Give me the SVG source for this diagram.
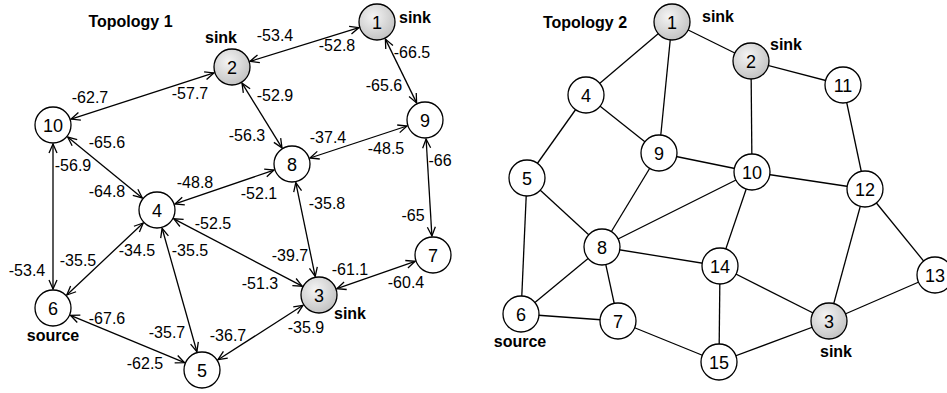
<svg xmlns="http://www.w3.org/2000/svg" width="947" height="393" viewBox="0 0 947 393">
<style>
  text { font-family: "Liberation Sans", Arial, Helvetica, sans-serif; fill: #000; }
  .num { font-size: 18px; text-anchor: middle; }
  .lbl { font-size: 16px; text-anchor: middle; }
  .bold { font-size: 16px; font-weight: bold; }
  .n { fill: #fff; stroke: #000; stroke-width: 1.3; }
  .s { fill: url(#sinkFill); stroke: #000; stroke-width: 1.3; }
  .e { stroke: #000; stroke-width: 1.3; fill: none; }
  .a { marker-start: url(#arr); marker-end: url(#arr); }
</style>
<defs>
  <radialGradient id="sinkFill" cx="0.4" cy="0.35" r="0.65">
    <stop offset="0" stop-color="#f4f4f4"/>
    <stop offset="1" stop-color="#c4c4c4"/>
  </radialGradient>
  <marker id="arr" viewBox="-11 -6 13 12" refX="0" refY="0" markerWidth="13" markerHeight="12" markerUnits="userSpaceOnUse" orient="auto-start-reverse">
    <path d="M-9,-4 L0,0 L-9,4" fill="none" stroke="#000" stroke-width="1.3"/>
  </marker>
</defs>

<!-- Topology 1 connectors -->
<g id="connectors1">
  <line class="e a" x1="358.9" y1="27.6" x2="250.1" y2="61.4"/>
  <line class="e a" x1="385.4" y1="39.1" x2="416.6" y2="102.9"/>
  <line class="e a" x1="213.9" y1="72.9" x2="71.1" y2="119.1"/>
  <line class="e a" x1="242.0" y1="83.2" x2="282.0" y2="147.9"/>
  <line class="e a" x1="407.0" y1="126.0" x2="310.0" y2="158.0"/>
  <line class="e a" x1="426.1" y1="139.0" x2="431.9" y2="236.0"/>
  <line class="e a" x1="67.7" y1="137.0" x2="142.3" y2="198.0"/>
  <line class="e a" x1="53" y1="144" x2="53" y2="289"/>
  <line class="e a" x1="274.0" y1="170.1" x2="175.0" y2="203.9"/>
  <line class="e a" x1="295.8" y1="182.6" x2="315.2" y2="276.4"/>
  <line class="e a" x1="173.8" y1="218.8" x2="302.2" y2="286.2"/>
  <line class="e a" x1="143.2" y1="223.0" x2="66.8" y2="295.0"/>
  <line class="e a" x1="162.1" y1="228.3" x2="196.9" y2="351.7"/>
  <line class="e a" x1="70.5" y1="315.3" x2="184.5" y2="362.7"/>
  <line class="e a" x1="218.0" y1="359.7" x2="303.0" y2="305.3"/>
  <line class="e a" x1="336.9" y1="288.7" x2="415.1" y2="261.3"/>
</g>

<!-- Topology 1 edge labels -->
<g id="edge-labels1">
  <text class="lbl" x="275" y="41">-53.4</text>
  <text class="lbl" x="337" y="51">-52.8</text>
  <text class="lbl" x="412" y="58">-66.5</text>
  <text class="lbl" x="384" y="91">-65.6</text>
  <text class="lbl" x="275" y="101">-52.9</text>
  <text class="lbl" x="247" y="141">-56.3</text>
  <text class="lbl" x="328" y="143">-37.4</text>
  <text class="lbl" x="386" y="154">-48.5</text>
  <text class="lbl" x="440" y="166">-66</text>
  <text class="lbl" x="90" y="103">-62.7</text>
  <text class="lbl" x="190" y="99">-57.7</text>
  <text class="lbl" x="107" y="148">-65.6</text>
  <text class="lbl" x="73" y="171">-56.9</text>
  <text class="lbl" x="107" y="197">-64.8</text>
  <text class="lbl" x="195" y="188">-48.8</text>
  <text class="lbl" x="259" y="199">-52.1</text>
  <text class="lbl" x="327" y="209">-35.8</text>
  <text class="lbl" x="213" y="229">-52.5</text>
  <text class="lbl" x="78" y="266">-35.5</text>
  <text class="lbl" x="137" y="256">-34.5</text>
  <text class="lbl" x="190" y="256">-35.5</text>
  <text class="lbl" x="27" y="276">-53.4</text>
  <text class="lbl" x="290" y="261">-39.7</text>
  <text class="lbl" x="350" y="275">-61.1</text>
  <text class="lbl" x="406" y="288">-60.4</text>
  <text class="lbl" x="260" y="289">-51.3</text>
  <text class="lbl" x="413" y="221">-65</text>
  <text class="lbl" x="107" y="324">-67.6</text>
  <text class="lbl" x="167" y="338">-35.7</text>
  <text class="lbl" x="228" y="341">-36.7</text>
  <text class="lbl" x="306" y="333">-35.9</text>
  <text class="lbl" x="145" y="369">-62.5</text>
</g>

<!-- Topology 1 nodes -->
<g id="t1-n1"><circle class="s" cx="377" cy="22" r="18"/><text class="num" x="377" y="28.5">1</text></g>
<g id="t1-n2"><circle class="s" cx="232" cy="67" r="18"/><text class="num" x="232" y="73.5">2</text></g>
<g id="t1-n9"><circle class="n" cx="425" cy="120" r="18"/><text class="num" x="425" y="126.5">9</text></g>
<g id="t1-n8"><circle class="n" cx="292" cy="164" r="18"/><text class="num" x="292" y="170.5">8</text></g>
<g id="t1-n10"><circle class="n" cx="53" cy="125" r="18"/><text class="num" x="53" y="131.5">10</text></g>
<g id="t1-n4"><circle class="n" cx="157" cy="210" r="18"/><text class="num" x="157" y="216.5">4</text></g>
<g id="t1-n6"><circle class="n" cx="53" cy="308" r="18"/><text class="num" x="53" y="314.5">6</text></g>
<g id="t1-n5"><circle class="n" cx="202" cy="370" r="18"/><text class="num" x="202" y="376.5">5</text></g>
<g id="t1-n3"><circle class="s" cx="319" cy="295" r="18"/><text class="num" x="319" y="301.5">3</text></g>
<g id="t1-n7"><circle class="n" cx="433" cy="255" r="18"/><text class="num" x="433" y="261.5">7</text></g>

<g id="t1-labels">
  <text class="bold" x="130.5" y="27" text-anchor="middle">Topology 1</text>
  <text class="bold" x="205" y="43">sink</text>
  <text class="bold" x="399" y="22.5">sink</text>
  <text class="bold" x="334" y="318.5">sink</text>
  <text class="bold" x="53" y="340.5" text-anchor="middle">source</text>
</g>

<!-- Topology 2 connectors -->
<g id="connectors2">
  <line class="e" x1="672" y1="22" x2="586" y2="95"/>
  <line class="e" x1="672" y1="22" x2="659" y2="153"/>
  <line class="e" x1="672" y1="22" x2="751" y2="61"/>
  <line class="e" x1="751" y1="61" x2="843" y2="85"/>
  <line class="e" x1="751" y1="61" x2="752" y2="172"/>
  <line class="e" x1="586" y1="95" x2="659" y2="153"/>
  <line class="e" x1="586" y1="95" x2="527" y2="178"/>
  <line class="e" x1="659" y1="153" x2="752" y2="172"/>
  <line class="e" x1="659" y1="153" x2="602" y2="247"/>
  <line class="e" x1="527" y1="178" x2="602" y2="247"/>
  <line class="e" x1="527" y1="178" x2="521" y2="314"/>
  <line class="e" x1="752" y1="172" x2="865" y2="189"/>
  <line class="e" x1="752" y1="172" x2="602" y2="247"/>
  <line class="e" x1="752" y1="172" x2="720" y2="266"/>
  <line class="e" x1="843" y1="85" x2="865" y2="189"/>
  <line class="e" x1="865" y1="189" x2="829" y2="321"/>
  <line class="e" x1="865" y1="189" x2="935" y2="275"/>
  <line class="e" x1="602" y1="247" x2="720" y2="266"/>
  <line class="e" x1="602" y1="247" x2="521" y2="314"/>
  <line class="e" x1="602" y1="247" x2="618" y2="321"/>
  <line class="e" x1="521" y1="314" x2="618" y2="321"/>
  <line class="e" x1="618" y1="321" x2="719" y2="362"/>
  <line class="e" x1="720" y1="266" x2="719" y2="362"/>
  <line class="e" x1="720" y1="266" x2="829" y2="321"/>
  <line class="e" x1="829" y1="321" x2="935" y2="275"/>
  <line class="e" x1="829" y1="321" x2="719" y2="362"/>
</g>

<!-- Topology 2 nodes -->
<g id="t2-n1"><circle class="s" cx="672" cy="22" r="18"/><text class="num" x="672" y="28.5">1</text></g>
<g id="t2-n2"><circle class="s" cx="751" cy="61" r="18"/><text class="num" x="751" y="67.5">2</text></g>
<g id="t2-n4"><circle class="n" cx="586" cy="95" r="18"/><text class="num" x="586" y="101.5">4</text></g>
<g id="t2-n11"><circle class="n" cx="843" cy="85" r="18"/><text class="num" x="843" y="91.5">11</text></g>
<g id="t2-n9"><circle class="n" cx="659" cy="153" r="18"/><text class="num" x="659" y="159.5">9</text></g>
<g id="t2-n10"><circle class="n" cx="752" cy="172" r="18"/><text class="num" x="752" y="178.5">10</text></g>
<g id="t2-n5"><circle class="n" cx="527" cy="178" r="18"/><text class="num" x="527" y="184.5">5</text></g>
<g id="t2-n12"><circle class="n" cx="865" cy="189" r="18"/><text class="num" x="865" y="195.5">12</text></g>
<g id="t2-n8"><circle class="n" cx="602" cy="247" r="18"/><text class="num" x="602" y="253.5">8</text></g>
<g id="t2-n14"><circle class="n" cx="720" cy="266" r="18"/><text class="num" x="720" y="272.5">14</text></g>
<g id="t2-n13"><circle class="n" cx="935" cy="275" r="18"/><text class="num" x="935" y="281.5">13</text></g>
<g id="t2-n6"><circle class="n" cx="521" cy="314" r="18"/><text class="num" x="521" y="320.5">6</text></g>
<g id="t2-n7"><circle class="n" cx="618" cy="321" r="18"/><text class="num" x="618" y="327.5">7</text></g>
<g id="t2-n3"><circle class="s" cx="829" cy="321" r="18"/><text class="num" x="829" y="327.5">3</text></g>
<g id="t2-n15"><circle class="n" cx="719" cy="362" r="18"/><text class="num" x="719" y="368.5">15</text></g>

<g id="t2-labels">
  <text class="bold" x="585" y="28" text-anchor="middle">Topology 2</text>
  <text class="bold" x="702" y="22">sink</text>
  <text class="bold" x="770" y="50">sink</text>
  <text class="bold" x="520" y="347" text-anchor="middle">source</text>
  <text class="bold" x="836" y="357" text-anchor="middle">sink</text>
</g>
</svg>
